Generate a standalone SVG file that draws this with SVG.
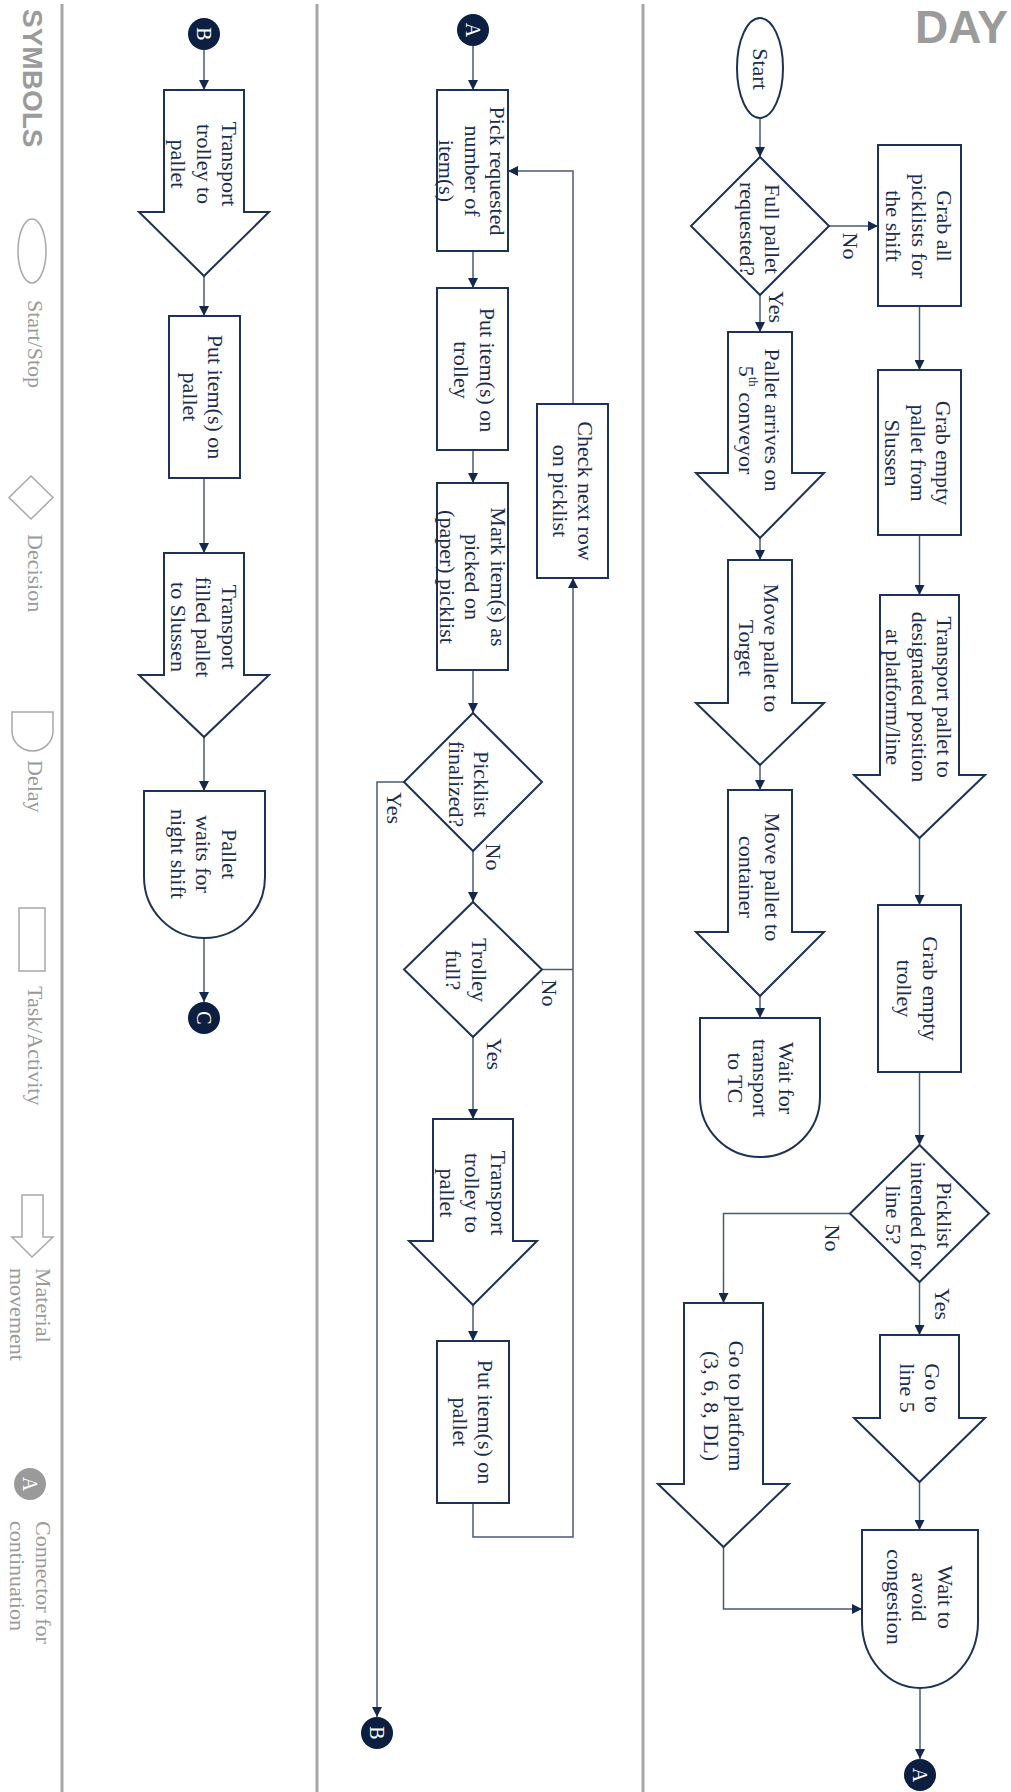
<svg xmlns="http://www.w3.org/2000/svg" width="1011" height="1792" viewBox="0 0 1011 1792">
<defs>
<style>
.node{fill:#fff;stroke:#1e3256;stroke-width:2}
.lbl{font-family:"Liberation Serif","Times New Roman",serif;font-size:22px;fill:#1b2d4e;text-anchor:middle;dominant-baseline:central}
.yn{font-family:"Liberation Serif","Times New Roman",serif;font-size:22px;fill:#1b2d4e;text-anchor:middle;dominant-baseline:central}
.edge{fill:none;stroke:#4a5a77;stroke-width:1.5}
.conn{fill:#0c1f40}
.ct{font-family:"Liberation Serif","Times New Roman",serif;font-size:20px;fill:#fff;text-anchor:middle;dominant-baseline:central}
.lane{stroke:#a6a6a6;stroke-width:3}
.sym{fill:none;stroke:#a8a8a8;stroke-width:1.5}
.symt{font-family:"Liberation Serif","Times New Roman",serif;font-size:22px;fill:#9a9a9a}
.title{font-family:"Liberation Sans",Arial,sans-serif;font-weight:bold;fill:#9b9b9b}
</style>
<marker id="arr" viewBox="0 0 10 10" refX="10" refY="5" markerWidth="10" markerHeight="10" markerUnits="userSpaceOnUse" orient="auto"><path d="M0,0 L10,5 L0,10 z" fill="#13284a"/></marker>
</defs>
<rect width="1011" height="1792" fill="#fff"/>

<g id="lanes">
<line class="lane" x1="62" y1="4" x2="62" y2="1792"/>
<line class="lane" x1="317" y1="4" x2="317" y2="1792"/>
<line class="lane" x1="643" y1="4" x2="643" y2="1792"/>
<text class="title" x="1008" y="43" font-size="46" text-anchor="end">DAY</text>
<text class="title" font-size="28" transform="translate(23,9) rotate(90)">SYMBOLS</text>
</g>

<g id="legend">
<ellipse class="sym" cx="32" cy="251" rx="14" ry="32"/>
<text class="symt" transform="translate(28,300) rotate(90)">Start/Stop</text>
<polygon class="sym" points="31,476 53,497.5 31,519 9,497.5"/>
<text class="symt" transform="translate(28,534) rotate(90)">Decision</text>
<path class="sym" d="M12,712 H53 V731 A20.5,20 0 0 1 12,731 Z"/>
<text class="symt" transform="translate(28,760) rotate(90)">Delay</text>
<rect class="sym" x="19" y="908" width="26" height="63"/>
<text class="symt" transform="translate(28,986) rotate(90)">Task/Activity</text>
<path class="sym" d="M22,1195 H43 V1237 H53 L32,1257 L12,1237 H22 Z"/>
<text class="symt" transform="translate(36,1268) rotate(90)"><tspan x="0" y="0">Material</tspan><tspan x="0" y="26">movement</tspan></text>
<circle cx="30" cy="1484" r="16" fill="#9a9a9a"/>
<text class="ct" transform="rotate(90 30 1484)" x="30" y="1484">A</text>
<text class="symt" transform="translate(36,1521) rotate(90)"><tspan x="0" y="0">Connector for</tspan><tspan x="0" y="26">continuation</tspan></text>
</g>

<g id="connectors">
<path class="edge" marker-end="url(#arr)" d="M760,118 V157"/>
<path class="edge" marker-end="url(#arr)" d="M829,226 H878"/>
<path class="edge" marker-end="url(#arr)" d="M760,295 V332"/>
<path class="edge" marker-end="url(#arr)" d="M919.5,306 V370"/>
<path class="edge" marker-end="url(#arr)" d="M919.5,535 V595"/>
<path class="edge" marker-end="url(#arr)" d="M919.5,838 V905"/>
<path class="edge" marker-end="url(#arr)" d="M919.5,1072 V1145"/>
<path class="edge" marker-end="url(#arr)" d="M919.5,1282 V1335"/>
<path class="edge" marker-end="url(#arr)" d="M850,1213.5 H723.5 V1303"/>
<path class="edge" marker-end="url(#arr)" d="M723.5,1547 V1609 H862"/>
<path class="edge" marker-end="url(#arr)" d="M919.5,1482 V1530"/>
<path class="edge" marker-end="url(#arr)" d="M920,1688 V1759"/>
<path class="edge" marker-end="url(#arr)" d="M760,538 V560"/>
<path class="edge" marker-end="url(#arr)" d="M760,765 V790"/>
<path class="edge" marker-end="url(#arr)" d="M760,996 V1018"/>

<path class="edge" marker-end="url(#arr)" d="M473,46 V90"/>
<path class="edge" marker-end="url(#arr)" d="M473,251 V288"/>
<path class="edge" marker-end="url(#arr)" d="M473,450 V483"/>
<path class="edge" marker-end="url(#arr)" d="M473,670 V713"/>
<path class="edge" marker-end="url(#arr)" d="M473,851 V902"/>
<path class="edge" marker-end="url(#arr)" d="M473,1037 V1119"/>
<path class="edge" marker-end="url(#arr)" d="M473,1305 V1341"/>
<path class="edge" marker-end="url(#arr)" d="M473,1503 V1537 H573 V578"/>
<path class="edge" d="M542,969.5 H573"/>
<path class="edge" marker-end="url(#arr)" d="M573,404 V171 H508"/>
<path class="edge" marker-end="url(#arr)" d="M404,782 H377 V1717"/>

<path class="edge" marker-end="url(#arr)" d="M204,50 V90"/>
<path class="edge" marker-end="url(#arr)" d="M204,276 V316"/>
<path class="edge" marker-end="url(#arr)" d="M204,478 V553"/>
<path class="edge" marker-end="url(#arr)" d="M204,737 V791"/>
<path class="edge" marker-end="url(#arr)" d="M204,938 V1002"/>

<text class="yn" transform="rotate(90 850 246)" x="850" y="246">No</text>
<text class="yn" transform="rotate(90 776 307)" x="776" y="307">Yes</text>
<text class="yn" transform="rotate(90 832 1238)" x="832" y="1238">No</text>
<text class="yn" transform="rotate(90 942 1304)" x="942" y="1304">Yes</text>
<text class="yn" transform="rotate(90 394 808)" x="394" y="808">Yes</text>
<text class="yn" transform="rotate(90 493 857)" x="493" y="857">No</text>
<text class="yn" transform="rotate(90 549 993)" x="549" y="993">No</text>
<text class="yn" transform="rotate(90 494 1054)" x="494" y="1054">Yes</text>
</g>

<g id="start">
<ellipse class="node" cx="760" cy="68" rx="23" ry="50"/>
<text class="lbl" transform="rotate(90 760 69)" x="760" y="69">Start</text>
</g>
<g id="full-pallet">
<polygon class="node" points="760,157 829,226 760,295 691,226"/>
<text class="lbl" transform="rotate(90 760.5 229)" x="760.5" y="229"><tspan x="760.5" dy="-12.75">Full pallet</tspan><tspan x="760.5" dy="25.5">requested?</tspan></text>
</g>
<g id="grab-picklists">
<rect class="node" x="878" y="145" width="83" height="161"/>
<text class="lbl" transform="rotate(90 919.5 226)" x="919.5" y="226"><tspan x="919.5" dy="-25.5">Grab all</tspan><tspan x="919.5" dy="25.5">picklists for</tspan><tspan x="919.5" dy="25.5">the shift</tspan></text>
</g>
<g id="grab-pallet">
<rect class="node" x="878" y="370" width="83" height="165"/>
<text class="lbl" transform="rotate(90 918.5 453)" x="918.5" y="453"><tspan x="918.5" dy="-25.5">Grab empty</tspan><tspan x="918.5" dy="25.5">pallet from</tspan><tspan x="918.5" dy="25.5">Slussen</tspan></text>
</g>
<g id="transport-pallet">
<path class="node" d="M880,595 H959 V775 H985 L919.5,838 L854,775 H880 Z"/>
<text class="lbl" transform="rotate(90 919.5 697)" x="919.5" y="697"><tspan x="919.5" dy="-25.5">Transport pallet to</tspan><tspan x="919.5" dy="25.5">designated position</tspan><tspan x="919.5" dy="25.5">at platform/line</tspan></text>
</g>
<g id="grab-trolley">
<rect class="node" x="878" y="905" width="83" height="167"/>
<text class="lbl" transform="rotate(90 918 988.5)" x="918" y="988.5"><tspan x="918" dy="-12.75">Grab empty</tspan><tspan x="918" dy="25.5">trolley</tspan></text>
</g>
<g id="line5">
<polygon class="node" points="919.5,1145 989,1213.5 919.5,1282 850,1213.5"/>
<text class="lbl" transform="rotate(90 919 1215)" x="919" y="1215"><tspan x="919" dy="-25.5">Picklist</tspan><tspan x="919" dy="25.5">intended for</tspan><tspan x="919" dy="25.5">line 5?</tspan></text>
</g>
<g id="go-line5">
<path class="node" d="M880,1335 H959 V1418 H985 L919.5,1482 L854,1418 H880 Z"/>
<text class="lbl" transform="rotate(90 920.5 1388)" x="920.5" y="1388"><tspan x="920.5" dy="-12.75">Go to</tspan><tspan x="920.5" dy="25.5">line 5</tspan></text>
</g>
<g id="go-platform">
<path class="node" d="M684,1303 H763 V1484 H789 L723.5,1547 L658,1484 H684 Z"/>
<text class="lbl" transform="rotate(90 724.5 1406)" x="724.5" y="1406"><tspan x="724.5" dy="-12.75">Go to platform</tspan><tspan x="724.5" dy="25.5">(3, 6, 8, DL)</tspan></text>
</g>
<g id="wait-congestion">
<path class="node" d="M862,1530 H978 V1622 A58,66 0 0 1 862,1622 Z"/>
<text class="lbl" transform="rotate(90 920 1597)" x="920" y="1597"><tspan x="920" dy="-25.5">Wait to</tspan><tspan x="920" dy="25.5">avoid</tspan><tspan x="920" dy="25.5">congestion</tspan></text>
</g>
<g id="conn-A-out">
<circle class="conn" cx="920" cy="1775" r="16"/>
<text class="ct" transform="rotate(90 920 1775)" x="920" y="1775">A</text>
</g>
<g id="pallet-arrives">
<path class="node" d="M728,332 H792 V473 H824 L760,538 L696,473 H728 Z"/>
<text class="lbl" transform="rotate(90 760 420)" x="760" y="420"><tspan x="760" dy="-12.75">Pallet arrives on</tspan><tspan x="760" dy="25.5">5</tspan><tspan font-size="13" dy="-7">th</tspan><tspan dy="7"> conveyor</tspan></text>
</g>
<g id="move-torget">
<path class="node" d="M728,560 H792 V703 H824 L760,765 L696,703 H728 Z"/>
<text class="lbl" transform="rotate(90 759.5 648)" x="759.5" y="648"><tspan x="759.5" dy="-12.75">Move pallet to</tspan><tspan x="759.5" dy="25.5">Torget</tspan></text>
</g>
<g id="move-container">
<path class="node" d="M728,790 H792 V932 H824 L760,996 L696,932 H728 Z"/>
<text class="lbl" transform="rotate(90 760 877)" x="760" y="877"><tspan x="760" dy="-12.75">Move pallet to</tspan><tspan x="760" dy="25.5">container</tspan></text>
</g>
<g id="wait-tc">
<path class="node" d="M700,1018 H820 V1097 A60,60 0 0 1 700,1097 Z"/>
<text class="lbl" transform="rotate(90 761 1078)" x="761" y="1078"><tspan x="761" dy="-25.5">Wait for</tspan><tspan x="761" dy="25.5">transport</tspan><tspan x="761" dy="25.5">to TC</tspan></text>
</g>

<g id="conn-A-in">
<circle class="conn" cx="473" cy="30" r="16"/>
<text class="ct" transform="rotate(90 473 30)" x="473" y="30">A</text>
</g>
<g id="pick">
<rect class="node" x="437" y="90" width="71" height="161"/>
<text class="lbl" transform="rotate(90 472.5 171)" x="472.5" y="171"><tspan x="472.5" dy="-25.5">Pick requested</tspan><tspan x="472.5" dy="25.5">number of</tspan><tspan x="472.5" dy="25.5">item(s)</tspan></text>
</g>
<g id="put-trolley">
<rect class="node" x="437" y="288" width="71" height="162"/>
<text class="lbl" transform="rotate(90 475 370)" x="475" y="370"><tspan x="475" dy="-12.75">Put item(s) on</tspan><tspan x="475" dy="25.5">trolley</tspan></text>
</g>
<g id="mark">
<rect class="node" x="437" y="483" width="71" height="187"/>
<text class="lbl" transform="rotate(90 473 577)" x="473" y="577"><tspan x="473" dy="-25.5">Mark item(s) as</tspan><tspan x="473" dy="25.5">picked on</tspan><tspan x="473" dy="25.5">(paper) picklist</tspan></text>
</g>
<g id="finalized">
<polygon class="node" points="473,713 542,782 473,851 404,782"/>
<text class="lbl" transform="rotate(90 469.5 784)" x="469.5" y="784"><tspan x="469.5" dy="-12.75">Picklist</tspan><tspan x="469.5" dy="25.5">finalized?</tspan></text>
</g>
<g id="check-next">
<rect class="node" x="537" y="404" width="71" height="174"/>
<text class="lbl" transform="rotate(90 573.5 491)" x="573.5" y="491"><tspan x="573.5" dy="-12.75">Check next row</tspan><tspan x="573.5" dy="25.5">on picklist</tspan></text>
</g>
<g id="trolley-full">
<polygon class="node" points="473,902 542,969.5 473,1037 404,969.5"/>
<text class="lbl" transform="rotate(90 467 970)" x="467" y="970"><tspan x="467" dy="-12.75">Trolley</tspan><tspan x="467" dy="25.5">full?</tspan></text>
</g>
<g id="transport-trolley-mid">
<path class="node" d="M433,1119 H513 V1241 H537 L473,1305 L409,1241 H433 Z"/>
<text class="lbl" transform="rotate(90 473 1193)" x="473" y="1193"><tspan x="473" dy="-25.5">Transport</tspan><tspan x="473" dy="25.5">trolley to</tspan><tspan x="473" dy="25.5">pallet</tspan></text>
</g>
<g id="put-pallet-mid">
<rect class="node" x="437" y="1341" width="72" height="162"/>
<text class="lbl" transform="rotate(90 473.5 1422)" x="473.5" y="1422"><tspan x="473.5" dy="-12.75">Put item(s) on</tspan><tspan x="473.5" dy="25.5">pallet</tspan></text>
</g>
<g id="conn-B-out">
<circle class="conn" cx="377" cy="1733" r="16"/>
<text class="ct" transform="rotate(90 377 1733)" x="377" y="1733">B</text>
</g>

<g id="conn-B-in">
<circle class="conn" cx="204" cy="34" r="16"/>
<text class="ct" transform="rotate(90 204 34)" x="204" y="34">B</text>
</g>
<g id="transport-trolley-left">
<path class="node" d="M164,90 H244 V212 H269 L204,276 L139,212 H164 Z"/>
<text class="lbl" transform="rotate(90 204.5 164)" x="204.5" y="164"><tspan x="204.5" dy="-25.5">Transport</tspan><tspan x="204.5" dy="25.5">trolley to</tspan><tspan x="204.5" dy="25.5">pallet</tspan></text>
</g>
<g id="put-pallet-left">
<rect class="node" x="169" y="316" width="71" height="162"/>
<text class="lbl" transform="rotate(90 203.5 397)" x="203.5" y="397"><tspan x="203.5" dy="-12.75">Put item(s) on</tspan><tspan x="203.5" dy="25.5">pallet</tspan></text>
</g>
<g id="transport-filled">
<path class="node" d="M164,553 H244 V675 H269 L204,737 L139,675 H164 Z"/>
<text class="lbl" transform="rotate(90 204 627)" x="204" y="627"><tspan x="204" dy="-25.5">Transport</tspan><tspan x="204" dy="25.5">filled pallet</tspan><tspan x="204" dy="25.5">to Slussen</tspan></text>
</g>
<g id="wait-night">
<path class="node" d="M144,791 H265 V877 A60.5,61 0 0 1 144,877 Z"/>
<text class="lbl" transform="rotate(90 204 854)" x="204" y="854"><tspan x="204" dy="-25.5">Pallet</tspan><tspan x="204" dy="25.5">waits for</tspan><tspan x="204" dy="25.5">night shift</tspan></text>
</g>
<g id="conn-C">
<circle class="conn" cx="204" cy="1018" r="16"/>
<text class="ct" transform="rotate(90 204 1018)" x="204" y="1018">C</text>
</g>
</svg>
